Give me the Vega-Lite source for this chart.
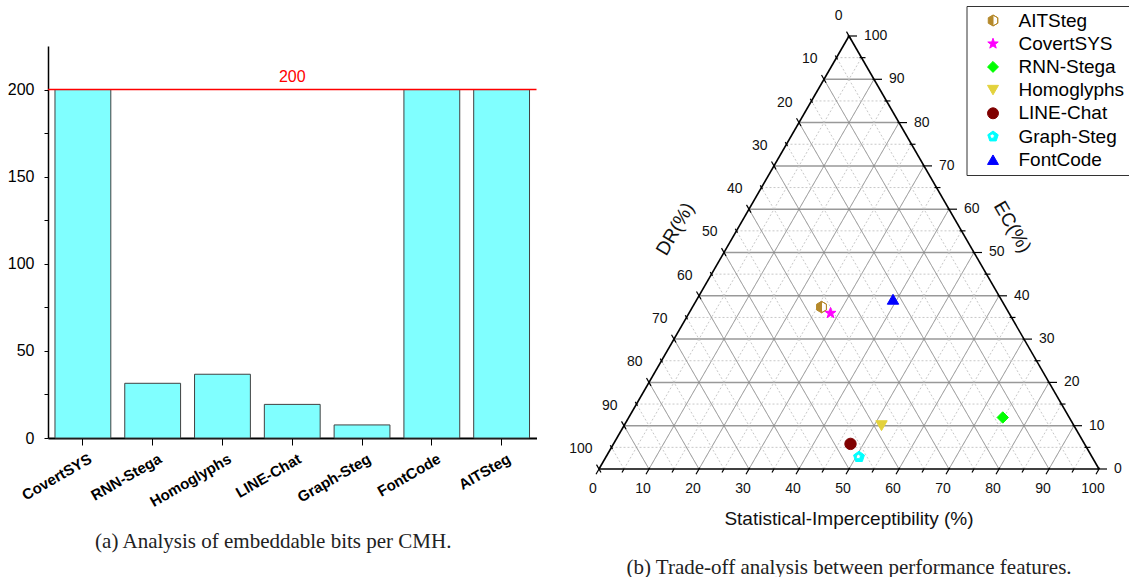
{
  "$schema": "https://vega.github.io/schema/vega-lite/v6.json",
  "padding": {"left": 7, "top": 5, "right": 0, "bottom": 0},
  "spacing": 31,
  "config": {"view": {"stroke": null}, "font": "Liberation Sans"},
  "datasets": {
    "bars": [
      {"method": "CovertSYS", "bits": 200},
      {"method": "RNN-Stega", "bits": 31.4},
      {"method": "Homoglyphs", "bits": 36.6},
      {"method": "LINE-Chat", "bits": 19.3},
      {"method": "Graph-Steg", "bits": 7.5},
      {"method": "FontCode", "bits": 200},
      {"method": "AITSteg", "bits": 200}
    ],
    "tv": [{"v":0},{"v":5},{"v":10},{"v":15},{"v":20},{"v":25},{"v":30},{"v":35},{"v":40},{"v":45},{"v":50},{"v":55},{"v":60},{"v":65},{"v":70},{"v":75},{"v":80},{"v":85},{"v":90},{"v":95},{"v":100}],
    "edges": [{"axis": "SI"}, {"axis": "EC"}, {"axis": "DR"}],
    "pts": [
      {"method": "AITSteg", "SI": 25.8, "EC": 37.4, "DR": 36.8},
      {"method": "CovertSYS", "SI": 28.3, "EC": 36.0, "DR": 35.7},
      {"method": "RNN-Stega", "SI": 74.8, "EC": 11.9, "DR": 13.3},
      {"method": "Homoglyphs", "SI": 51.5, "EC": 10.0, "DR": 38.5},
      {"method": "LINE-Chat", "SI": 47.4, "EC": 5.8, "DR": 46.8},
      {"method": "Graph-Steg", "SI": 50.6, "EC": 2.8, "DR": 46.6},
      {"method": "FontCode", "SI": 39.2, "EC": 39.2, "DR": 21.6}
    ]
  },
  "hconcat": [
    {
      "width": 488.5,
      "height": 392,
      "title": {"text": "(a) Analysis of embeddable bits per CMH.", "orient": "bottom", "font": "Liberation Serif", "fontSize": 21, "fontWeight": "normal", "color": "#222222", "offset": 22, "dx": -19},
      "layer": [
        {
          "data": {"name": "bars"},
          "mark": {"type": "bar", "fill": "#80ffff", "stroke": "#404040", "strokeWidth": 1},
          "encoding": {
            "x": {"field": "method", "type": "nominal", "sort": null,
              "scale": {"paddingInner": 0.2, "paddingOuter": 0.1},
              "axis": {"title": null, "labelAngle": -30, "labelFont": "Liberation Sans", "labelFontWeight": "bold", "labelFontSize": 15, "labelColor": "black", "tickSize": 7, "tickColor": "black", "domainColor": "black", "domainWidth": 2, "labelPadding": 6, "labelOffset": 4}},
            "y": {"field": "bits", "type": "quantitative",
              "scale": {"domain": [0, 225], "nice": false},
              "axis": {"title": null, "grid": false, "values": [0,25,50,75,100,125,150,175,200], "labelExpr": "datum.value % 50 === 0 ? datum.label : ''", "labelFontSize": 16, "labelColor": "black", "tickSize": 4, "tickColor": "black", "domainColor": "black", "domainWidth": 1.5, "labelPadding": 10}}
          }
        },
        {
          "data": {"values": [{"v": 200}]},
          "mark": {"type": "rule", "color": "#ff0000", "strokeWidth": 1.5},
          "encoding": {"y": {"field": "v", "type": "quantitative"}}
        },
        {
          "data": {"values": [{"v": 200}]},
          "mark": {"type": "text", "color": "#ff0000", "fontSize": 16, "dy": -13},
          "encoding": {"y": {"field": "v", "type": "quantitative"}, "text": {"field": "v", "type": "quantitative"}}
        }
      ]
    },
    {
      "width": 500,
      "height": 423,
      "title": {"text": "(b) Trade-off analysis between performance features.", "orient": "bottom", "font": "Liberation Serif", "fontSize": 21, "fontWeight": "normal", "color": "#222222", "offset": 28},
      "layer": [
        {
          "data": {"name": "tv"},
          "transform": [{"filter": "datum.v > 0 && datum.v < 100"}, {"calculate": "datum.v / 2", "as": "xa"}, {"calculate": "100 - datum.v / 2", "as": "xb"}],
          "mark": {"type": "rule"},
          "encoding": {
            "x": {"field": "xa", "type": "quantitative", "scale": {"domain": [0, 100], "nice": false, "zero": false}, "axis": null},
            "x2": {"field": "xb"},
            "y": {"field": "v", "type": "quantitative", "scale": {"domain": [0, 97.69], "nice": false, "zero": false}, "axis": null},
            "stroke": {"condition": {"test": "datum.v % 10 === 0", "value": "#999999"}, "value": "#c8c8c8"},
            "strokeWidth": {"condition": {"test": "datum.v % 10 === 0", "value": 1.5}, "value": 1},
            "strokeDash": {"condition": {"test": "datum.v % 10 === 0", "value": [1, 0]}, "value": [2, 2]}
          }
        },
        {
          "data": {"name": "tv"},
          "transform": [{"filter": "datum.v > 0 && datum.v < 100"}, {"calculate": "datum.v", "as": "xa"}, {"calculate": "0", "as": "ya"}, {"calculate": "50 + datum.v / 2", "as": "xb"}, {"calculate": "100 - datum.v", "as": "yb"}],
          "mark": {"type": "rule"},
          "encoding": {
            "x": {"field": "xa", "type": "quantitative", "scale": {"domain": [0, 100], "nice": false, "zero": false}, "axis": null},
            "x2": {"field": "xb"},
            "y": {"field": "ya", "type": "quantitative", "scale": {"domain": [0, 97.69], "nice": false, "zero": false}, "axis": null},
            "y2": {"field": "yb"},
            "stroke": {"condition": {"test": "datum.v % 10 === 0", "value": "#8c8c8c"}, "value": "#c8c8c8"},
            "strokeWidth": {"condition": {"test": "datum.v % 10 === 0", "value": 1}, "value": 1},
            "strokeDash": {"condition": {"test": "datum.v % 10 === 0", "value": [1, 0]}, "value": [2, 2]}
          }
        },
        {
          "data": {"name": "tv"},
          "transform": [{"filter": "datum.v > 0 && datum.v < 100"}, {"calculate": "100 - datum.v", "as": "xa"}, {"calculate": "0", "as": "ya"}, {"calculate": "(100 - datum.v) / 2", "as": "xb"}, {"calculate": "100 - datum.v", "as": "yb"}],
          "mark": {"type": "rule"},
          "encoding": {
            "x": {"field": "xa", "type": "quantitative", "scale": {"domain": [0, 100], "nice": false, "zero": false}, "axis": null},
            "x2": {"field": "xb"},
            "y": {"field": "ya", "type": "quantitative", "scale": {"domain": [0, 97.69], "nice": false, "zero": false}, "axis": null},
            "y2": {"field": "yb"},
            "stroke": {"condition": {"test": "datum.v % 10 === 0", "value": "#8c8c8c"}, "value": "#c8c8c8"},
            "strokeWidth": {"condition": {"test": "datum.v % 10 === 0", "value": 1}, "value": 1},
            "strokeDash": {"condition": {"test": "datum.v % 10 === 0", "value": [1, 0]}, "value": [2, 2]}
          }
        },
        {
          "data": {"name": "edges"},
          "transform": [{"calculate": "datum.axis === 'DR' ? 100 : 0", "as": "xa"}, {"calculate": "0", "as": "ya"}, {"calculate": "datum.axis === 'EC' ? 100 : 50", "as": "xb"}, {"calculate": "datum.axis === 'EC' ? 0 : 100", "as": "yb"}],
          "mark": {"type": "rule", "color": "black", "strokeWidth": 1.6},
          "encoding": {
            "x": {"field": "xa", "type": "quantitative", "scale": {"domain": [0, 100], "nice": false, "zero": false}, "axis": null},
            "x2": {"field": "xb"},
            "y": {"field": "ya", "type": "quantitative", "scale": {"domain": [0, 97.69], "nice": false, "zero": false}, "axis": null},
            "y2": {"field": "yb"}
          }
        },
        {
          "data": {"name": "tv"},
          "transform": [{"calculate": "100 - datum.v / 2 + (datum.v % 10 === 0 ? -0.3 : -0.4)", "as": "xa"}, {"calculate": "100 - datum.v / 2 + (datum.v % 10 === 0 ? 1.6 : 0.8)", "as": "xb"}],
          "mark": {"type": "rule", "color": "black", "strokeWidth": 1.2},
          "encoding": {
            "x": {"field": "xa", "type": "quantitative", "scale": {"domain": [0, 100], "nice": false, "zero": false}, "axis": null},
            "x2": {"field": "xb"},
            "y": {"field": "v", "type": "quantitative", "scale": {"domain": [0, 97.69], "nice": false, "zero": false}, "axis": null}
          }
        },
        {
          "data": {"name": "tv"},
          "transform": [{"calculate": "datum.v + (datum.v % 10 === 0 ? 0.15 : 0)", "as": "xa"}, {"calculate": "datum.v % 10 === 0 ? 0.3 : 0", "as": "ya"}, {"calculate": "datum.v - (datum.v % 10 === 0 ? 0.6 : 0.4)", "as": "xb"}, {"calculate": "datum.v % 10 === 0 ? -1.2 : -0.8", "as": "yb"}],
          "mark": {"type": "rule", "color": "black", "strokeWidth": 1.2},
          "encoding": {
            "x": {"field": "xa", "type": "quantitative", "scale": {"domain": [0, 100], "nice": false, "zero": false}, "axis": null},
            "x2": {"field": "xb"},
            "y": {"field": "ya", "type": "quantitative", "scale": {"domain": [0, 97.69], "nice": false, "zero": false}, "axis": null},
            "y2": {"field": "yb"}
          }
        },
        {
          "data": {"name": "tv"},
          "transform": [{"calculate": "(100 - datum.v) / 2 + (datum.v % 10 === 0 ? 0.4 : 0.2)", "as": "xa"}, {"calculate": "100 - datum.v - (datum.v % 10 === 0 ? 0.8 : 0.4)", "as": "ya"}, {"calculate": "(100 - datum.v) / 2 - (datum.v % 10 === 0 ? 0.5 : 0.25)", "as": "xb"}, {"calculate": "100 - datum.v + (datum.v % 10 === 0 ? 1.0 : 0.5)", "as": "yb"}],
          "mark": {"type": "rule", "color": "black", "strokeWidth": 1.2},
          "encoding": {
            "x": {"field": "xa", "type": "quantitative", "scale": {"domain": [0, 100], "nice": false, "zero": false}, "axis": null},
            "x2": {"field": "xb"},
            "y": {"field": "ya", "type": "quantitative", "scale": {"domain": [0, 97.69], "nice": false, "zero": false}, "axis": null},
            "y2": {"field": "yb"}
          }
        },
        {
          "data": {"name": "tv"},
          "transform": [{"filter": "datum.v % 10 === 0"}, {"calculate": "100 - datum.v / 2", "as": "xa"}],
          "mark": {"type": "text", "align": "left", "baseline": "middle", "dx": 15, "fontSize": 14, "color": "#111111"},
          "encoding": {
            "x": {"field": "xa", "type": "quantitative", "scale": {"domain": [0, 100], "nice": false, "zero": false}, "axis": null},
            "y": {"field": "v", "type": "quantitative", "scale": {"domain": [0, 97.69], "nice": false, "zero": false}, "axis": null},
            "text": {"field": "v", "type": "quantitative"}
          }
        },
        {
          "data": {"name": "tv"},
          "transform": [{"filter": "datum.v % 10 === 0"}, {"calculate": "0", "as": "ya"}],
          "mark": {"type": "text", "align": "center", "baseline": "middle", "dx": -6, "dy": 20, "fontSize": 14, "color": "#111111"},
          "encoding": {
            "x": {"field": "v", "type": "quantitative", "scale": {"domain": [0, 100], "nice": false, "zero": false}, "axis": null},
            "y": {"field": "ya", "type": "quantitative", "scale": {"domain": [0, 97.69], "nice": false, "zero": false}, "axis": null},
            "text": {"field": "v", "type": "quantitative"}
          }
        },
        {
          "data": {"name": "tv"},
          "transform": [{"filter": "datum.v % 10 === 0"}, {"calculate": "(100 - datum.v) / 2", "as": "xa"}, {"calculate": "100 - datum.v", "as": "ya"}],
          "mark": {"type": "text", "align": "right", "baseline": "middle", "dx": -6.5, "dy": -20, "fontSize": 14, "color": "#111111"},
          "encoding": {
            "x": {"field": "xa", "type": "quantitative", "scale": {"domain": [0, 100], "nice": false, "zero": false}, "axis": null},
            "y": {"field": "ya", "type": "quantitative", "scale": {"domain": [0, 97.69], "nice": false, "zero": false}, "axis": null},
            "text": {"field": "v", "type": "quantitative"}
          }
        },
        {
          "data": {"values": [{"t": "Statistical-Imperceptibility (%)", "xa": 50, "ya": 0}]},
          "mark": {"type": "text", "align": "center", "baseline": "middle", "dy": 50, "fontSize": 19, "color": "#111111"},
          "encoding": {
            "x": {"field": "xa", "type": "quantitative", "scale": {"domain": [0, 100], "nice": false, "zero": false}, "axis": null},
            "y": {"field": "ya", "type": "quantitative", "scale": {"domain": [0, 97.69], "nice": false, "zero": false}, "axis": null},
            "text": {"field": "t"}
          }
        },
        {
          "data": {"values": [{"t": "DR(%)", "xa": 25, "ya": 50}]},
          "mark": {"type": "text", "align": "center", "baseline": "middle", "angle": -60, "dx": -4, "dy": -54, "fontSize": 19, "color": "#111111"},
          "encoding": {
            "x": {"field": "xa", "type": "quantitative", "scale": {"domain": [0, 100], "nice": false, "zero": false}, "axis": null},
            "y": {"field": "ya", "type": "quantitative", "scale": {"domain": [0, 97.69], "nice": false, "zero": false}, "axis": null},
            "text": {"field": "t"}
          }
        },
        {
          "data": {"values": [{"t": "EC(%)", "xa": 75, "ya": 50}]},
          "mark": {"type": "text", "align": "center", "baseline": "middle", "angle": 60, "dx": -3, "dy": -46, "fontSize": 19, "color": "#111111"},
          "encoding": {
            "x": {"field": "xa", "type": "quantitative", "scale": {"domain": [0, 100], "nice": false, "zero": false}, "axis": null},
            "y": {"field": "ya", "type": "quantitative", "scale": {"domain": [0, 97.69], "nice": false, "zero": false}, "axis": null},
            "text": {"field": "t"}
          }
        },
        {
          "data": {"name": "pts"},
          "transform": [{"calculate": "datum.SI + datum.EC / 2", "as": "tx"}],
          "mark": {"type": "point", "filled": true, "size": 130, "strokeWidth": 1, "opacity": 1},
          "encoding": {
            "x": {"field": "tx", "type": "quantitative", "scale": {"domain": [0, 100], "nice": false, "zero": false}, "axis": null},
            "y": {"field": "EC", "type": "quantitative", "scale": {"domain": [0, 97.69], "nice": false, "zero": false}, "axis": null},
            "shape": {"field": "method", "type": "nominal",
              "scale": {"domain": ["AITSteg", "CovertSYS", "RNN-Stega", "Homoglyphs", "LINE-Chat", "Graph-Steg", "FontCode"],
                "range": ["M0,-1L0.866,-0.5L0.866,0.5L0,1L-0.866,0.5L-0.866,-0.5ZM0,-1L0,1L0.866,0.5L0.866,-0.5Z", "M0,-1L0.235,-0.324L0.951,-0.309L0.38,0.124L0.588,0.809L0,0.4L-0.588,0.809L-0.38,0.124L-0.951,-0.309L-0.235,-0.324Z", "diamond", "triangle-down", "circle", "M0,-1L0.951,-0.309L0.588,0.809L-0.588,0.809L-0.951,-0.309ZM-0.15,-0.5L-0.578,-0.189L-0.415,0.314L0.115,0.314L0.278,-0.189Z", "triangle-up"]},
              "legend": {"title": null, "orient": "none", "legendX": 918.5, "legendY": -40, "strokeColor": "#333333", "fillColor": "white", "padding": 5, "labelFontSize": 19, "labelColor": "black", "labelFont": "Liberation Sans", "symbolSize": 120, "rowPadding": 3.2, "symbolOffset": 12, "labelOffset": 16, "symbolStrokeWidth": 1}},
            "fill": {"field": "method", "type": "nominal",
              "scale": {"domain": ["AITSteg", "CovertSYS", "RNN-Stega", "Homoglyphs", "LINE-Chat", "Graph-Steg", "FontCode"],
                "range": ["#b5892b", "#ff00ff", "#00ff00", "#e3d23c", "#800000", "#00ffff", "#0000ff"]},
              "legend": {"title": null, "orient": "none", "legendX": 918.5, "legendY": -40, "strokeColor": "#333333", "fillColor": "white", "padding": 5, "labelFontSize": 19, "labelColor": "black", "labelFont": "Liberation Sans", "symbolSize": 120, "rowPadding": 3.2, "symbolOffset": 12, "labelOffset": 16, "symbolStrokeWidth": 1}},
            "stroke": {"field": "method", "type": "nominal",
              "scale": {"domain": ["AITSteg", "CovertSYS", "RNN-Stega", "Homoglyphs", "LINE-Chat", "Graph-Steg", "FontCode"],
                "range": ["#b5892b", "#ff00ff", "#00ff00", "#e3d23c", "#800000", "#00ffff", "#0000ff"]},
              "legend": {"title": null, "orient": "none", "legendX": 918.5, "legendY": -40, "strokeColor": "#333333", "fillColor": "white", "padding": 5, "labelFontSize": 19, "labelColor": "black", "labelFont": "Liberation Sans", "symbolSize": 120, "rowPadding": 3.2, "symbolOffset": 12, "labelOffset": 16, "symbolStrokeWidth": 1}}
          }
        }
      ]
    }
  ]
}
